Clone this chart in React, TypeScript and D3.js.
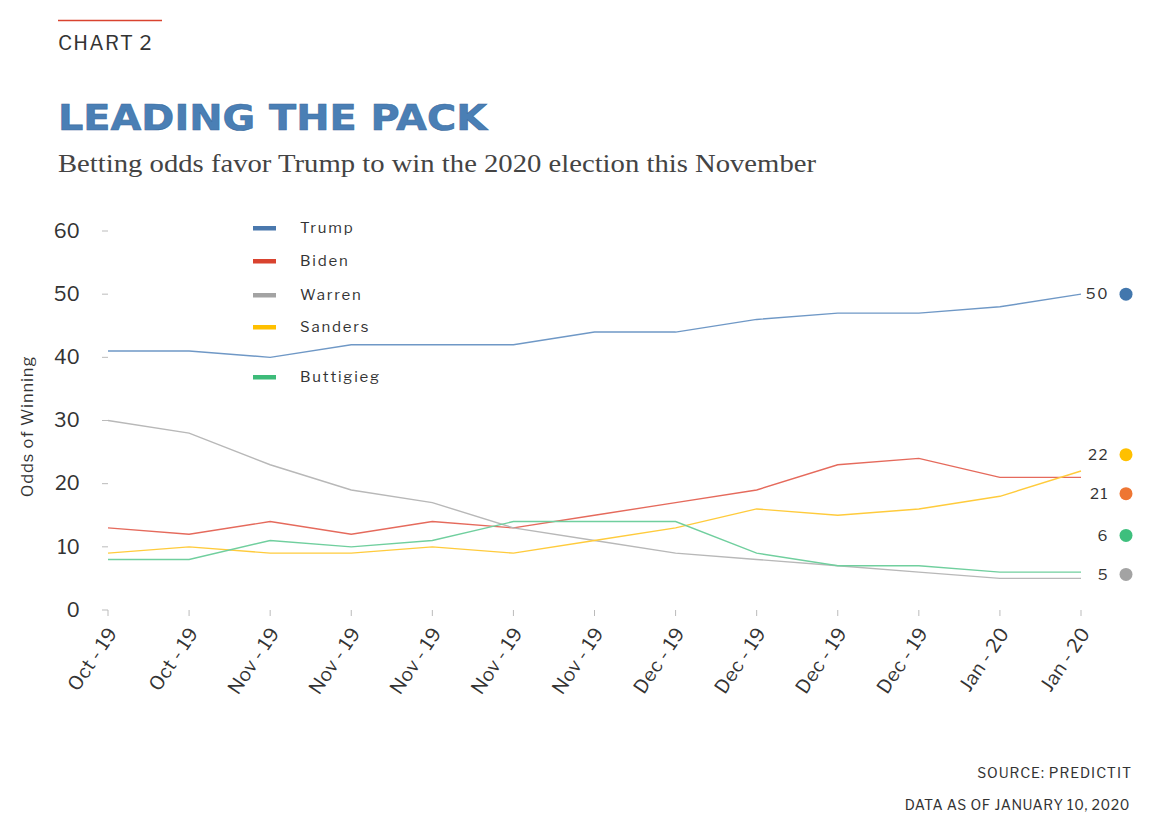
import React from 'react';
import * as d3 from 'd3';

// Data
const dates = [
  'Oct - 19', 'Oct - 19', 'Nov - 19', 'Nov - 19', 'Nov - 19', 'Nov - 19', 'Nov - 19',
  'Dec - 19', 'Dec - 19', 'Dec - 19', 'Dec - 19', 'Jan - 20', 'Jan - 20',
];
const trump = [41, 41, 40, 42, 42, 42, 44, 44, 46, 47, 47, 48, 50];
const biden = [13, 12, 14, 12, 14, 13, 15, 17, 19, 23, 24, 21, 21];
const warren = [30, 28, 23, 19, 17, 13, 11, 9, 8, 7, 6, 5, 5];
const sanders = [9, 10, 9, 9, 10, 9, 11, 13, 16, 15, 16, 18, 22];
const buttigieg = [8, 8, 11, 10, 11, 14, 14, 14, 9, 7, 7, 6, 6];
const yTicks = [0, 10, 20, 30, 40, 50, 60];

type Series = { name: string; values: number[]; line: string; swatch: string; dot: string };

const series: Series[] = [
  { name: 'Trump', values: trump, line: '#6f98c6', swatch: '#4a78ad', dot: '#4277ad' },
  { name: 'Biden', values: biden, line: '#e56a5c', swatch: '#d9432f', dot: '#ee7633' },
  { name: 'Warren', values: warren, line: '#b8b8b8', swatch: '#a3a3a3', dot: '#a3a3a3' },
  { name: 'Sanders', values: sanders, line: '#ffcb3c', swatch: '#ffc000', dot: '#ffc000' },
  { name: 'Buttigieg', values: buttigieg, line: '#70cf9e', swatch: '#3dbb79', dot: '#3ebf7d' },
];

const W = 1164;
const H = 838;
const margin = { left: 108, right: 83, top: 231, bottom: 228 };
const font = "'Libre Franklin', 'Roboto', 'Liberation Sans', sans-serif";

const x = d3.scalePoint<number>()
  .domain(d3.range(dates.length))
  .range([margin.left, W - margin.right]);
const y = d3.scaleLinear().domain([0, 60]).range([H - margin.bottom, margin.top]);

const line = d3.line<number>()
  .x((_, i) => x(i)!)
  .y(d => y(d));

// simple dodge for end labels so they don't overlap
const endLabels = (() => {
  const items = series.map(s => ({ s, v: s.values[s.values.length - 1], ly: y(s.values[s.values.length - 1]) }))
    .sort((a, b) => a.ly - b.ly);
  const gap = 39;
  const maxY = d3.max(items, d => d.ly)! - 4;
  for (let k = 0; k < 60; k++) {
    for (let i = 1; i < items.length; i++) {
      const d = items[i].ly - items[i - 1].ly;
      if (d < gap) {
        const push = (gap - d) / 2;
        items[i - 1].ly -= push;
        items[i].ly += push;
      }
    }
    items.forEach(it => { if (it.ly > maxY) it.ly = maxY; });
  }
  return items;
})();

const legendY = [228, 261, 295, 327, 377];

export default function App() {
  const x0 = x(0)!;
  return (
    <div style={{ position: 'absolute', left: 0, top: 0, width: W, height: H, background: '#fff' }}>
      <svg width={W} height={H} style={{ display: 'block' }}>
        {/* header */}
        <line x1={58} x2={162} y1={20.5} y2={20.5} stroke="#d9432f" strokeWidth={1.5} />
        <text x={58} y={50} fontFamily={font} fontSize={20} letterSpacing={1.2} fill="#333">CHART 2</text>
        <text x={58} y={130} fontFamily="'DejaVu Sans', sans-serif" fontWeight={900} fontSize={36}
          textLength={429} lengthAdjust="spacingAndGlyphs" fill="#4a7fb5" stroke="#3d6d9f" strokeWidth={0.6}>
          LEADING THE PACK
        </text>
        <text x={58} y={172} fontFamily="'Liberation Serif', 'DejaVu Serif', serif" fontSize={26}
          textLength={758} lengthAdjust="spacingAndGlyphs" fill="#444">
          Betting odds favor Trump to win the 2020 election this November
        </text>

        {/* y axis */}
        {yTicks.map(t => (
          <g key={t}>
            <line x1={x0 - 6} x2={x0} y1={y(t)} y2={y(t)} stroke="#bbb" strokeWidth={1} />
            <text x={80} y={y(t)} dy="0.35em" textAnchor="end" fontFamily={font} fontSize={19.5} fill="#333">{t}</text>
          </g>
        ))}
        <text transform={`translate(33,${(y(0) + y(60)) / 2 + 6}) rotate(-90)`} textAnchor="middle"
          fontFamily={font} fontSize={16.5} letterSpacing={0.9} fill="#333">Odds of Winning</text>

        {/* x axis */}
        {dates.map((d, i) => (
          <g key={i} transform={`translate(${x(i)},${y(0)})`}>
            <line y1={0} y2={6} stroke="#bbb" strokeWidth={1} />
            <text transform="translate(10,23) rotate(-56)" textAnchor="end" fontFamily={font} fontSize={19} letterSpacing={0.4} fill="#333">{d}</text>
          </g>
        ))}

        {/* lines */}
        {series.map(s => (
          <path key={s.name} d={line(s.values)!} fill="none" stroke={s.line} strokeWidth={1.4} />
        ))}

        {/* legend */}
        {series.map((s, i) => (
          <g key={s.name} transform={`translate(253,${legendY[i]})`}>
            <rect x={0} y={-2} width={23} height={4.5} fill={s.swatch} />
            <text x={47} y={0} dy="0.35em" fontFamily={font} fontSize={15} letterSpacing={1.8} fill="#333">{s.name}</text>
          </g>
        ))}

        {/* end labels */}
        {endLabels.map(it => (
          <g key={it.s.name}>
            <text x={1109} y={it.ly} dy="0.35em" textAnchor="end" fontFamily={font} fontSize={15} letterSpacing={1.5} fill="#333">{it.v}</text>
            <circle cx={1126} cy={it.ly} r={6.5} fill={it.s.dot} />
          </g>
        ))}

        {/* footer */}
        <text x={1132} y={778} textAnchor="end" fontFamily={font} fontSize={14} letterSpacing={1} fill="#333">SOURCE: PREDICTIT</text>
        <text x={1130} y={810} textAnchor="end" fontFamily={font} fontSize={14} letterSpacing={0.6} fill="#333">DATA AS OF JANUARY 10, 2020</text>
      </svg>
    </div>
  );
}
